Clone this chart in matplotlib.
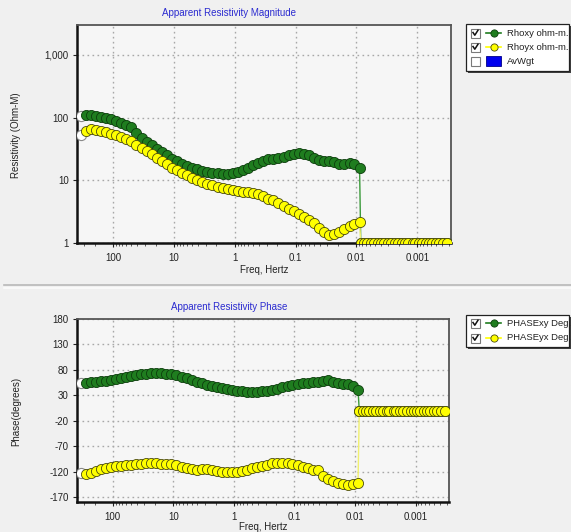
import matplotlib
matplotlib.use("Agg")
import matplotlib.pyplot as plt
from matplotlib.ticker import FixedLocator, FixedFormatter, NullFormatter, LogLocator
from matplotlib.patches import Rectangle
from matplotlib.lines import Line2D

plt.rcParams['font.family'] = ['Liberation Sans', 'DejaVu Sans']

# ---------------- data ----------------
freq = [340, 281, 232, 191, 158, 130, 108, 88.7, 73.3, 60.4,
        49.9, 41.2, 34.0, 28.1, 23.2, 19.1, 15.8, 13.0, 10.8, 8.87,
        7.33, 6.04, 4.99, 4.12, 3.40, 2.81, 2.32, 1.91, 1.58, 1.30,
        1.08, 0.887, 0.733, 0.604, 0.499, 0.412, 0.340, 0.281, 0.232, 0.191,
        0.158, 0.130, 0.108, 0.0887, 0.0733, 0.0604, 0.0499, 0.0412, 0.0340, 0.0281,
        0.0232, 0.0191, 0.0158, 0.0130, 0.0108, 0.0089,
        0.0085, 0.0075, 0.0066, 0.0058, 0.0051, 0.0045, 0.0039, 0.0035, 0.0030, 0.0027,
        0.0023, 0.0021, 0.0018, 0.0016, 0.0014, 0.0012, 0.00108, 0.00095, 0.00083, 0.00073,
        0.00064, 0.00057, 0.0005, 0.00044, 0.00038, 0.00033]

rho_xy = [107, 111, 110, 108, 104, 100, 95, 89, 82, 77,
          72, 56, 48, 41, 36, 32, 28, 25, 22, 20,
          18.5, 17, 16, 15, 14.2, 13.6, 13.2, 13, 12.8, 12.8,
          13, 13.6, 14.8, 16, 17.5, 19, 20.5, 21.5, 22, 23,
          23.5, 25, 26.5, 27, 26, 25, 23, 21, 20, 20.5,
          19.5, 18.5, 18, 19, 18, 16,
          1.0, 1.0, 1.0, 1.0, 1.0, 1.0, 1.0, 1.0, 1.0, 1.0,
          1.0, 1.0, 1.0, 1.0, 1.0, 1.0, 1.0, 1.0, 1.0, 1.0,
          1.0, 1.0, 1.0, 1.0, 1.0, 1.0]

rho_yx = [53, 62, 66, 64, 61, 58, 55, 52, 49, 46,
          42, 37, 33, 29, 26, 23, 20, 18, 16, 14.5,
          13, 12, 11, 10.2, 9.5, 8.8, 8.3, 7.9, 7.5, 7.2,
          6.9, 6.7, 6.5, 6.4, 6.2, 6.0, 5.6, 5.1, 4.9, 4.3,
          3.9, 3.5, 3.2, 2.9, 2.6, 2.35, 2.05, 1.75, 1.5, 1.35,
          1.4, 1.5, 1.7, 1.85, 2.0, 2.2,
          1.0, 1.0, 1.0, 1.0, 1.0, 1.0, 1.0, 1.0, 1.0, 1.0,
          1.0, 1.0, 1.0, 1.0, 1.0, 1.0, 1.0, 1.0, 1.0, 1.0,
          1.0, 1.0, 1.0, 1.0, 1.0, 1.0]

phase_xy = [54, 55, 56, 57, 58, 59, 60, 61, 63, 65,
            67, 69, 71, 72, 73, 73, 73, 72, 71, 69,
            66, 63, 60, 57, 54, 51, 49, 47, 45, 43,
            41, 39, 38, 37, 37, 37, 38, 39, 40, 43,
            46, 49, 51, 53, 54, 55, 56, 57, 58, 60,
            57, 55, 53, 52, 48, 41,
            0, 0, 0, 0, 0, 0, 0, 0, 0, 0,
            0, 0, 0, 0, 0, 0, 0, 0, 0, 0,
            0, 0, 0, 0, 0, 0]

phase_yx = [-123, -124, -122, -119, -116, -114, -112, -110, -109, -108,
            -107, -106, -105, -104, -103, -104, -105, -105, -106, -108,
            -111, -114, -116, -117, -116, -115, -117, -119, -120, -120,
            -121, -120, -119, -117, -114, -112, -110, -107, -104, -103,
            -103, -104, -106, -108, -111, -114, -117, -118, -128, -134,
            -139, -142, -144, -146, -145, -142,
            0, 0, 0, 0, 0, 0, 0, 0, 0, 0,
            0, 0, 0, 0, 0, 0, 0, 0, 0, 0,
            0, 0, 0, 0, 0, 0]

x_ticks = [100, 10, 1, 0.1, 0.01, 0.001]
x_tick_labels = ["100", "10", "1", "0.1", "0.01", "0.001"]
rho_ticks = [1, 10, 100, 1000]
rho_tick_labels = ["1", "10", "100", "1,000"]
phase_ticks = [180, 130, 80, 30, -20, -70, -120, -170]
phase_tick_labels = ["180", "130", "80", "30", "-20", "-70", "-120", "-170"]

top_title = "Apparent Resistivity Magnitude"
bot_title = "Apparent Resistivity Phase"
top_legend = ["Rhoxy ohm-m.", "Rhoyx ohm-m.", "AvWgt"]
bot_legend = ["PHASExy Deg.", "PHASEyx Deg."]

# ---------------- style ----------------
W, H = 571, 532
fig = plt.figure(figsize=(W / 100, H / 100), dpi=100)
fig.patch.set_facecolor('#f0f0f0')

G_FACE, G_EDGE, G_LINE = '#1f7d1f', '#0d3d0d', '#3a9a3a'
Y_FACE, Y_EDGE, Y_LINE = '#ffff00', '#4a4a10', '#f0f070'
MS = 7.3


def frac(x0, y0, x1, y1):
    return [x0 / W, 1 - y1 / H, (x1 - x0) / W, (y1 - y0) / H]


def style_axes(ax, xlabelpad):
    ax.set_facecolor('#f6f6f6')
    ax.set_xscale('log')
    ax.set_xlim(390, 0.00028)
    ax.xaxis.set_major_locator(FixedLocator(x_ticks))
    ax.xaxis.set_major_formatter(FixedFormatter(x_tick_labels))
    ax.xaxis.set_minor_locator(LogLocator(base=10, subs=(2, 3, 4, 5, 6, 7, 8, 9)))
    ax.xaxis.set_minor_formatter(NullFormatter())
    ax.grid(True, which='major', color='#a8a8a8', linestyle=(0, (1.2, 2.4)), lw=1.0)
    ax.tick_params(axis='both', which='major', labelsize=7, colors='#222222',
                   length=3, width=0.8, pad=3)
    ax.tick_params(axis='x', which='minor', length=2, width=0.6, colors='#444444')
    ax.tick_params(axis='x', which='major', pad=4)
    for s in ['left', 'bottom']:
        ax.spines[s].set_color('#111111')
        ax.spines[s].set_linewidth(1.8)
    for s in ['top', 'right']:
        ax.spines[s].set_color('#555555')
        ax.spines[s].set_linewidth(1.3)
    ax.set_xlabel('Freq, Hertz', fontsize=7, color='#222222', labelpad=xlabelpad)


def draw_series(ax, y, face, edge, lcol):
    ax.plot(freq, y, '-', color=lcol, lw=1.0, zorder=3)
    ax.plot(freq[:1], y[:1], 'o', ms=MS, mfc='white', mec='#8a8a8a', mew=0.8, zorder=3)
    ax.plot(freq[1:], y[1:], 'o', ms=MS, mfc=face, mec=edge, mew=0.6, zorder=3)


# top panel
ax1 = fig.add_axes(frac(77, 25, 451, 243))
style_axes(ax1, 1.5)
ax1.set_yscale('log')
ax1.set_ylim(1, 3000)
ax1.yaxis.set_major_locator(FixedLocator(rho_ticks))
ax1.yaxis.set_major_formatter(FixedFormatter(rho_tick_labels))
ax1.yaxis.set_minor_locator(FixedLocator([]))
draw_series(ax1, rho_xy, G_FACE, G_EDGE, G_LINE)
draw_series(ax1, rho_yx, Y_FACE, Y_EDGE, Y_LINE)

# bottom panel
ax2 = fig.add_axes(frac(77, 319, 449, 502))
style_axes(ax2, 0.5)
ax2.set_ylim(-180, 180)
ax2.yaxis.set_major_locator(FixedLocator(phase_ticks))
ax2.yaxis.set_major_formatter(FixedFormatter(phase_tick_labels))
draw_series(ax2, phase_xy, G_FACE, G_EDGE, G_LINE)
draw_series(ax2, phase_yx, Y_FACE, Y_EDGE, Y_LINE)

# texts
fig.text(229 / W, 1 - 13 / H, top_title, color='#2b2bd0', fontsize=7, ha='center', va='center')
fig.text(229 / W, 1 - 307 / H, bot_title, color='#2b2bd0', fontsize=7, ha='center', va='center')
fig.text(16 / W, 1 - 135 / H, 'Resistivity (Ohm-M)', rotation=90, fontsize=7,
         color='#222222', ha='center', va='center')
fig.text(16 / W, 1 - 411 / H, 'Phase(degrees)', rotation=90, fontsize=7,
         color='#222222', ha='center', va='center')

# overlay for legends and separator
ov = fig.add_axes([0, 0, 1, 1], zorder=10)
ov.set_xlim(0, W)
ov.set_ylim(H, 0)
ov.axis('off')
ov.patch.set_alpha(0)

ov.add_line(Line2D([4, W], [284.5, 284.5], color='#b8b8b8', lw=1.2))
ov.add_line(Line2D([4, W], [287.5, 287.5], color='#fbfbfb', lw=1.2))


def checkbox(x, y, checked):
    ov.add_patch(Rectangle((x, y - 4.5), 9, 9, facecolor='white', edgecolor='#7a7a7a', lw=0.8))
    if checked:
        ov.add_line(Line2D([x + 2, x + 3.8, x + 7], [y - 0.5, y + 2.2, y - 2.8],
                           color='#111111', lw=1.1))


def legend_box(y0, y1, entries):
    ov.add_patch(Rectangle((468, y0 + 2), 103, y1 - y0, facecolor='#404040', edgecolor='none'))
    ov.add_patch(Rectangle((466, y0), 103, y1 - y0, facecolor='white', edgecolor='#222222', lw=0.9))
    for (y, kind, color, edge, label, checked) in entries:
        checkbox(471, y, checked)
        if kind == 'marker':
            ov.add_line(Line2D([486, 501], [y, y], color=color, lw=1.2))
            ov.add_line(Line2D([493.5], [y], marker='o', ms=5.2, mfc=color, mec=edge, mew=0.6))
        else:
            ov.add_patch(Rectangle((486, y - 5), 15, 10, facecolor='#0000ee', edgecolor='#000088', lw=0.6))
        ov.text(507, y, label, fontsize=6.8, color='#222222', va='center', ha='left')


legend_box(24, 71, [
    (33, 'marker', G_FACE, G_EDGE, top_legend[0], True),
    (47, 'marker', Y_FACE, Y_EDGE, top_legend[1], True),
    (61, 'rect', None, None, top_legend[2], False),
])
legend_box(315, 347, [
    (323, 'marker', G_FACE, G_EDGE, bot_legend[0], True),
    (338, 'marker', Y_FACE, Y_EDGE, bot_legend[1], True),
])

fig.savefig('out.png', dpi=100, facecolor=fig.get_facecolor())
